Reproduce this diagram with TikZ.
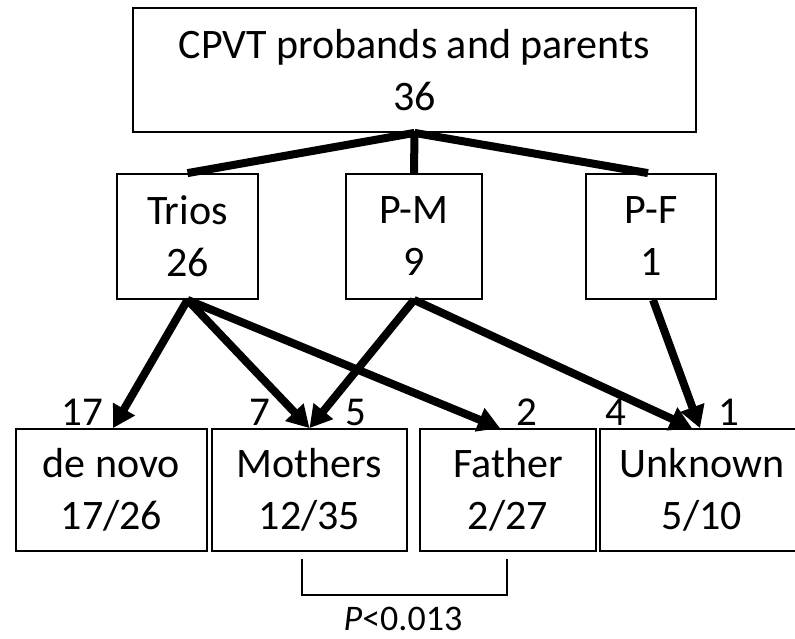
\documentclass[tikz,border=0pt]{standalone}
\usepackage{fontspec}
\setmainfont{Carlito}
\usetikzlibrary{arrows.meta,calc}
\begin{document}
\begin{tikzpicture}[x=1pt,y=-1pt,
  box/.style={draw=black,line width=1.8pt,rectangle,inner sep=0pt,align=center,
    font=\fontsize{42}{52}\selectfont},
  link/.style={line width=8pt,line cap=butt},
  arr/.style={line width=8pt,line cap=butt,-{Triangle[length=22pt,width=24pt]}},
  num/.style={anchor=base,inner sep=0pt,font=\fontsize{41}{48}\selectfont},
  brack/.style={line width=1.8pt}]
\useasboundingbox (0,0) rectangle (795,638);
% boxes
\node[box,minimum width=563pt,minimum height=124pt] (top) at (414.5,70) {CPVT probands and parents\\36};
\node[box,minimum width=141pt,minimum height=125pt] (trios) at (187.5,236.5) {Trios\\26};
\node[box,minimum width=136pt,minimum height=125pt] (pm) at (414,236.5) {P-M\\9};
\node[box,minimum width=130pt,minimum height=125pt] (pf) at (651,236.5) {P-F\\1};
\node[box,minimum width=191pt,minimum height=122pt] (denovo) at (111.5,490) {de novo\\17/26};
\node[box,minimum width=195pt,minimum height=122pt] (mothers) at (309.5,490) {Mothers\\12/35};
\node[box,minimum width=176pt,minimum height=122pt] (father) at (508,490) {Father\\2/27};
\node[box,minimum width=204pt,minimum height=122pt] (unknown) at (702,490) {Unknown\\5/10};
% top links
\draw[link] (top.south) -- (trios.north);
\draw[link] (top.south) -- (pm.north);
\draw[link] (top.south) -- ($(pf.north)+(-3,0)$);
% arrows
\draw[arr] (trios.south) -- ($(denovo.north)+(1.5,0)$);
\draw[arr] (trios.south) -- (mothers.north);
\draw[arr] (trios.south) -- ($(father.north)+(-8,0)$);
\draw[arr] (pm.south) -- (mothers.north);
\draw[arr] (pm.south) -- ($(unknown.north)+(-10,0)$);
\draw[arr] ($(pf.south)+(2,0)$) -- ($(unknown.north)+(-2,0)$);
% edge labels
\node[num] (l17) at (82,425) {17};
\node[num] (l7) at (260,425) {7};
\node[num] (l5) at (356,425) {5};
\node[num] (l2) at (527,425) {2};
\node[num] (l4) at (616,425) {4};
\node[num] (l1) at (729,425) {1};
% bracket
\coordinate (b1) at (302,559);
\coordinate (b2) at (302,595);
\coordinate (b3) at (507,595);
\coordinate (b4) at (507,559);
\draw[brack] (b1) -- (b2) -- (b3) -- (b4);
\node[anchor=base,inner sep=0pt,font=\fontsize{36}{40}\selectfont] (pval) at (403,630) {\textit{P}<0.013};
\end{tikzpicture}
\end{document}
